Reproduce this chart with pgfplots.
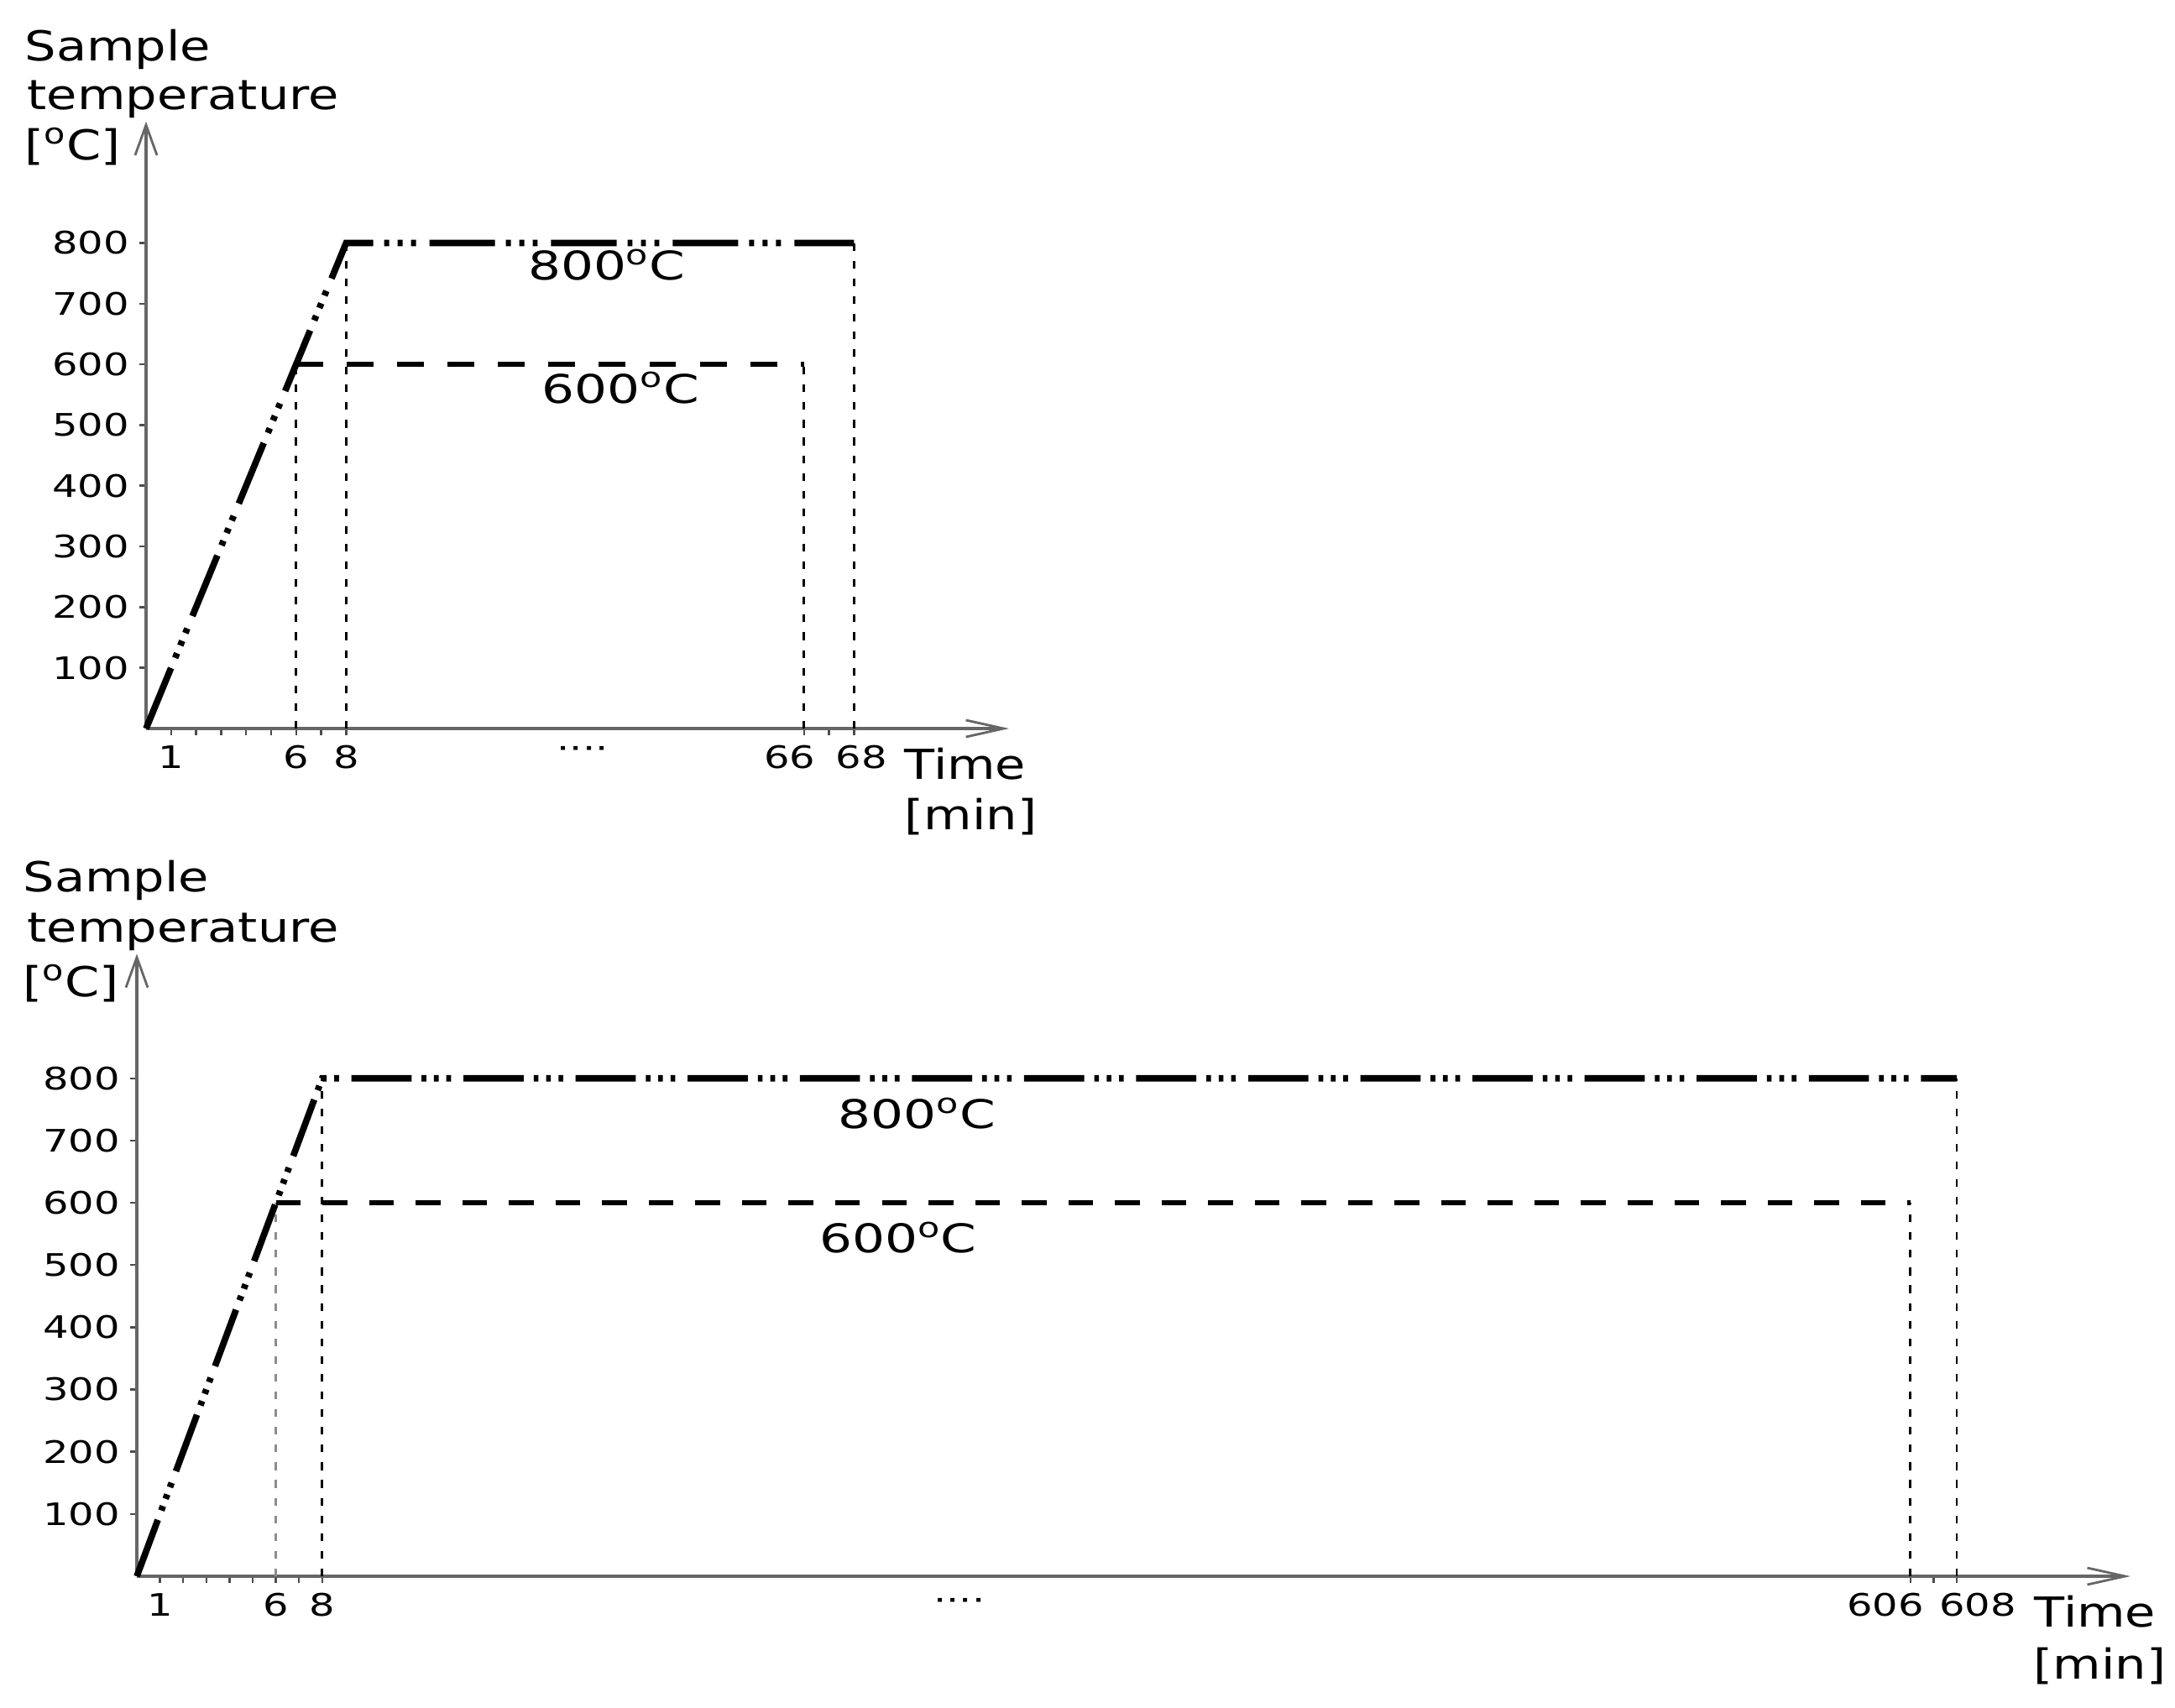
\documentclass[border=0pt]{standalone}
\usepackage{fontspec}
\setmainfont{DejaVu Sans}
\newfontfamily\tickfont{DejaVu Sans}[FakeStretch=1.3]
\newfontfamily\labfont{DejaVu Sans}[FakeStretch=1.2]
\usepackage{pgfplots}
\pgfplotsset{compat=1.18}
\usetikzlibrary{arrows.meta}

\pgfplotsset{
  heat/.style={
    axis lines=left,
    axis line style={black!60, line width=0.9pt},
    x axis line style={-{Straight Barb[length=0.45cm,width=0.2cm,line width=0.8pt]}},
    y axis line style={-{Straight Barb[length=0.36cm,width=0.26cm,line width=0.8pt]}},
    xmin=0, ymin=0, ymax=1000,
    ytick={100,200,...,800},
    tick align=outside,
    major tick length=0.08cm,
    tick style={black!70, line width=0.7pt},
    ticklabel style={font=\tickfont\fontsize{10.5}{12}\selectfont},
    /pgf/number format/assume math mode=true,
    clip=false,
    anchor=south west,
  },
}
\tikzset{
  guide/.style={black, line width=0.8pt, dash pattern=on 2.6pt off 3.4pt},
  lab/.style={anchor=base west, inner sep=0pt, font=\labfont\fontsize{14}{16}\selectfont},
  note/.style={anchor=base, inner sep=0pt, font=\tickfont\fontsize{13.4}{15}\selectfont},
}

\begin{document}
\begin{tikzpicture}
  \path (0,0) rectangle (25.91,-20.34);

  % ---- short run: 60 min at temperature ----
  \begin{axis}[heat,
      at={(1.74cm,-8.68cm)},
      x=0.298cm, y=0.00724cm, xmax=34.5,
      x coord trafo/.code={\pgfmathparse{#1>40 ? #1-39.7 : #1}},
      xtick={1,...,8,66,67,68},
      xticklabels={1,,,,,6,,8,\hspace*{-0.34cm}66,,68\hspace*{-0.18cm}},
    ]
    \addplot[guide] coordinates {(6,0) (6,600)};
    \addplot[guide] coordinates {(8,0) (8,800)};
    \addplot[guide] coordinates {(66,0) (66,600)};
    \addplot[guide] coordinates {(68,0) (68,800)};
    \addplot[black, line width=1.9pt, dash pattern=on 9.1pt off 8pt]
      coordinates {(6,600) (66,600)};
    \addplot[black, line width=2.2pt,
      dash pattern=on 22.2pt off 3.7pt on 1.7pt off 2.85pt on 1.7pt off 2.85pt on 1.7pt off 4.55pt]
      coordinates {(0,0) (8,800) (68,800)};
    \node[note] at (axis cs:18.42,739) {800\textsuperscript{o}C};
    \node[note] at (axis cs:18.96,536) {600\textsuperscript{o}C};
    \node[font=\tickfont\fontsize{10.5}{12}\selectfont, yshift=-0.29cm] at (axis cs:17.45,0) {····};
  \end{axis}
  \node[lab] at (0.29,-0.72) {Sample};
  \node[lab] at (0.32,-1.30) {temperature};
  \node[lab] at (0.29,-1.90) {[\textsuperscript{o}C]};
  \node[lab] at (10.77,-9.28) {Time};
  \node[lab] at (10.77,-9.88) {[min]};

  % ---- long run: 600 min at temperature ----
  \begin{axis}[heat,
      at={(1.63cm,-18.78cm)},
      x=0.276cm, y=0.00741cm, xmax=86.05,
      x coord trafo/.code={\pgfmathparse{#1>100 ? #1-529.45 : #1}},
      xtick={1,...,8,606,607,608},
      xticklabels={1,,,,,6,,8,\hspace*{-0.6cm}606,,608\hspace*{-0.5cm}},
    ]
    \addplot[guide, black!45] coordinates {(6,0) (6,600)};
    \addplot[guide] coordinates {(8,0) (8,800)};
    \addplot[guide] coordinates {(606,0) (606,600)};
    \addplot[guide] coordinates {(608,0) (608,800)};
    \addplot[black, line width=1.9pt, dash pattern=on 8.4pt off 7.4pt]
      coordinates {(6,600) (606,600)};
    \addplot[black, line width=2.2pt,
      dash pattern=on 20.4pt off 3.4pt on 1.6pt off 2.6pt on 1.6pt off 2.6pt on 1.6pt off 4.2pt]
      coordinates {(0,0) (8,800) (608,800)};
    \node[note] at (axis cs:33.66,719) {800\textsuperscript{o}C};
    \node[note] at (axis cs:32.86,520) {600\textsuperscript{o}C};
    \node[font=\tickfont\fontsize{10.5}{12}\selectfont, yshift=-0.34cm] at (axis cs:35.5,0) {····};
  \end{axis}
  \node[lab] at (0.27,-10.62) {Sample};
  \node[lab] at (0.32,-11.22) {temperature};
  \node[lab] at (0.27,-11.87) {[\textsuperscript{o}C]};
  \node[lab] at (24.23,-19.38) {Time};
  \node[lab] at (24.22,-20.00) {[min]};
\end{tikzpicture}
\end{document}
